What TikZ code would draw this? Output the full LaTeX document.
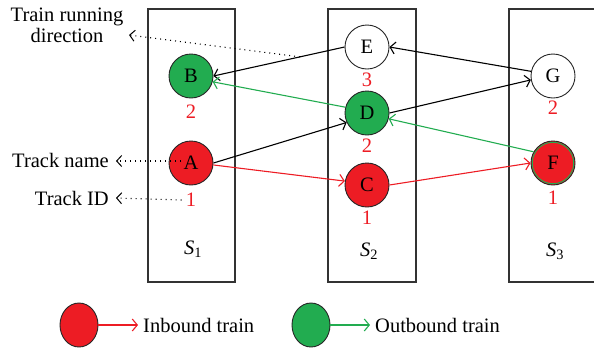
\documentclass[tikz,border=0pt]{standalone}
\usepackage{fontspec}
\setmainfont{Liberation Serif}
\usetikzlibrary{arrows.meta,shapes.geometric}
\definecolor{tred}{RGB}{237,28,36}
\definecolor{tgreen}{RGB}{34,172,80}
\begin{document}
\begin{tikzpicture}[x=1pt,y=-1pt,font=\fontsize{20.5}{21}\selectfont,
 stn/.style={circle,draw=black!85,line width=0.9pt,minimum size=44pt,inner sep=0pt},
 legc/.style={ellipse,draw=black!85,line width=0.9pt,minimum width=38pt,minimum height=44pt,inner sep=0pt},
 tid/.style={text=tred,inner sep=0pt},
 boxst/.style={draw=black!80,line width=1.1pt,rectangle,inner sep=0pt},
 arr/.style={line width=1.1pt,-{Straight Barb[length=5pt,width=12pt,line width=1.1pt]}},
 dots/.style={line width=1.1pt,dash pattern=on 1pt off 4pt,-{Straight Barb[length=5pt,width=11pt,line width=1pt]}},
 lbl/.style={inner sep=0pt}
]
\useasboundingbox (0,0) rectangle (594,349);
% track boxes
\node[boxst,minimum width=87pt,minimum height=273pt] (box1) at (191.5,145.5) {};
\node[boxst,minimum width=88pt,minimum height=273pt] (box2) at (372,145.5) {};
\node[boxst,minimum width=91pt,minimum height=273pt] (box3) at (554.5,145.5) {};
\node[lbl] (s1) at (193,249) {\textit{S}\textsubscript{1}};
\node[lbl] (s2) at (369,251) {\textit{S}\textsubscript{2}};
\node[lbl] (s3) at (555,251) {\textit{S}\textsubscript{3}};
% stations
\node[stn,fill=tgreen] (B) at (191,76) {B};
\node[stn,fill=tred] (A) at (191,163) {A};
\node[stn,fill=white] (E) at (367,47) {E};
\node[stn,fill=tgreen] (D) at (367,113) {D};
\node[stn,fill=tred] (C) at (367,185) {C};
\node[stn,fill=white] (G) at (553,76) {G};
\node[stn,fill=tred] (F) at (553,163) {F};
\draw[tgreen,line width=0.9pt] (F.center) circle (20.7pt);
% track ids
\node[tid] (nB) at (191,112) {2};
\node[tid] (nA) at (191,200) {1};
\node[tid] (nE) at (367,80) {3};
\node[tid] (nD) at (367,146) {2};
\node[tid] (nC) at (367,218) {1};
\node[tid] (nG) at (553,108) {2};
\node[tid] (nF) at (553,198) {1};
% connections
\draw[arr] (E.west) -- (B.east);
\draw[arr] (G.168) -- (E.east);
\draw[arr] (A.east) -- (D.205);
\draw[arr] (D.east) -- (G.190);
\draw[arr,tgreen] (D.165) -- (B.-15);
\draw[arr,tgreen] (F.150) -- (D.-15);
\draw[arr,tred] (A.-5) -- (C.170);
\draw[arr,tred] (C.east) -- (F.west);
% annotations
\path (E.west) -- (B.east) coordinate[pos=0.34] (tdpt);
\node[lbl,align=center] (trd) at (67,25) {Train running\\direction};
\coordinate (trdtip) at (129,35);
\draw[dots] (tdpt) -- (trdtip);
\node[lbl,anchor=east] (tn) at (109,160) {Track name};
\coordinate (tnS) at (181,161);
\draw[dots] (tnS) -- ([xshift=7pt,yshift=-1pt]tn.east);
\node[lbl,anchor=east] (tidl) at (109,198) {Track ID};
\draw[dots] ([xshift=-4pt]nA.west) -- ([xshift=7pt]tidl.east);
% legend
\node[legc,fill=tred] (lr) at (79,325) {};
\node[lbl,anchor=west] (lrt) at (143,325) {Inbound train};
\draw[arr,tred] (lr.east) -- ([xshift=-5pt]lrt.west);
\node[legc,fill=tgreen] (lg) at (311,325) {};
\node[lbl,anchor=west] (lgt) at (375,325) {Outbound train};
\draw[arr,tgreen] (lg.east) -- ([xshift=-5pt]lgt.west);
\end{tikzpicture}
\end{document}
